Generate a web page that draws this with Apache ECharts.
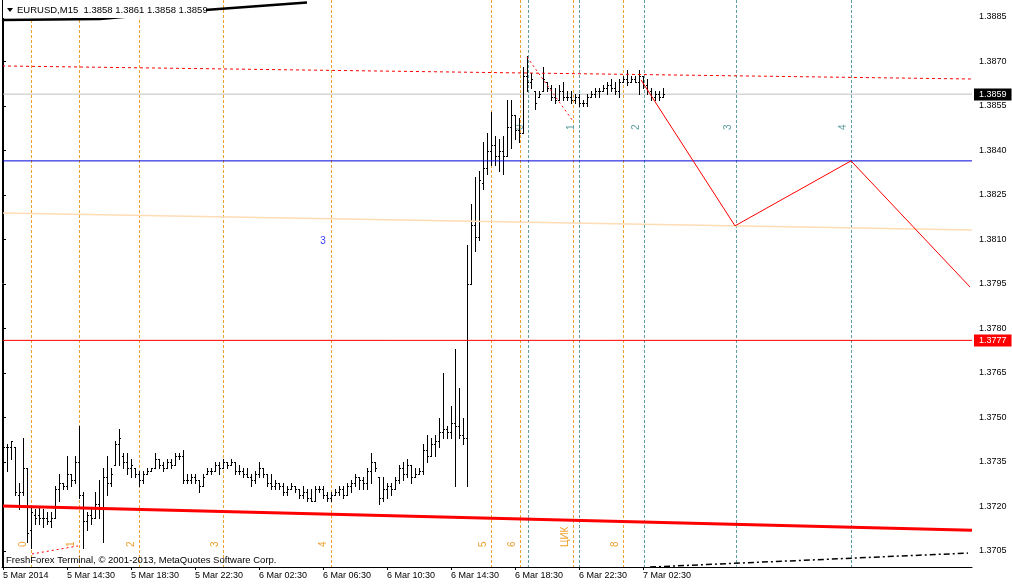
<!DOCTYPE html>
<html><head><meta charset="utf-8">
<script src="https://cdn.jsdelivr.net/npm/echarts@6/dist/echarts.min.js"></script>
<style>html,body{margin:0;padding:0;background:#fff}#c{width:1012px;height:585px}</style>
</head><body><div id="c"></div><script>
// ---- data (EURUSD M15, bars from 5 Mar 2014 10:30) ----
const barOpen=[1.3732,1.3740,1.3740,1.3740,1.3724,1.3725,1.3733,1.3712,1.3717,1.3717,
1.3716,1.3716,1.3715,1.3716,1.3726,1.3728,1.3727,1.3731,1.3729,1.3735,
1.3724,1.3715,1.3717,1.3716,1.3721,1.3719,1.3730,1.3728,1.3734,1.3741,
1.3737,1.3735,1.3733,1.3733,1.3731,1.3729,1.3731,1.3732,1.3733,1.3736,
1.3734,1.3733,1.3735,1.3734,1.3737,1.3737,1.3729,1.3729,1.3730,1.3729,
1.3727,1.3731,1.3732,1.3732,1.3734,1.3733,1.3735,1.3734,1.3735,1.3732,
1.3732,1.3731,1.3730,1.3729,1.3731,1.3733,1.3731,1.3728,1.3727,1.3728,
1.3727,1.3725,1.3726,1.3727,1.3726,1.3724,1.3725,1.3723,1.3722,1.3726,
1.3726,1.3724,1.3723,1.3724,1.3725,1.3726,1.3724,1.3727,1.3728,1.3730,
1.3729,1.3728,1.3732,1.3735,1.3730,1.3723,1.3726,1.3727,1.3726,1.3729,
1.3733,1.3731,1.3734,1.3730,1.3731,1.3732,1.3739,1.3737,1.3741,1.3742,
1.3745,1.3746,1.3745,1.3748,1.3747,1.3744,1.3743,1.3795,1.3815,1.3811,
1.3829,1.3834,1.3840,1.3842,1.3838,1.3840,1.3838,1.3848,1.3852,1.3847,
1.3846,1.3865,1.3863,1.3860,1.3858,1.3860,1.3863,1.3861,1.3858,1.3857,
1.3860,1.3858,1.3858,1.3857,1.3858,1.3856,1.3856,1.3858,1.3859,1.3860,
1.3860,1.3861,1.3862,1.3861,1.3860,1.3863,1.3864,1.3863,1.3864,1.3863,
1.3865,1.3862,1.3860,1.3858,1.3859,1.3858];
const barHigh=[1.3741,1.3741,1.3742,1.3740,1.3728,1.3743,1.3733,1.3720,1.3719,1.3720,
1.3719,1.3718,1.3718,1.3727,1.3731,1.3728,1.3737,1.3731,1.3737,1.3747,
1.3725,1.3718,1.3719,1.3725,1.3729,1.3733,1.3737,1.3733,1.3742,1.3746,
1.3738,1.3738,1.3736,1.3733,1.3732,1.3732,1.3733,1.3733,1.3738,1.3736,
1.3735,1.3736,1.3736,1.3738,1.3738,1.3739,1.3731,1.3731,1.3731,1.3729,
1.3731,1.3733,1.3733,1.3735,1.3735,1.3736,1.3735,1.3736,1.3735,1.3734,
1.3733,1.3733,1.3731,1.3732,1.3735,1.3733,1.3731,1.3731,1.3729,1.3728,
1.3728,1.3727,1.3728,1.3727,1.3726,1.3727,1.3726,1.3726,1.3727,1.3727,
1.3727,1.3725,1.3725,1.3726,1.3727,1.3727,1.3728,1.3729,1.3731,1.3730,
1.3730,1.3733,1.3738,1.3735,1.3730,1.3730,1.3728,1.3728,1.3730,1.3734,
1.3735,1.3736,1.3734,1.3733,1.3733,1.3741,1.3744,1.3743,1.3744,1.3750,
1.3765,1.3747,1.3754,1.3773,1.3760,1.3750,1.3808,1.3822,1.3831,1.3833,
1.3843,1.3846,1.3853,1.3845,1.3844,1.3845,1.3857,1.3857,1.3852,1.3851,
1.3868,1.3872,1.3866,1.3860,1.3860,1.3868,1.3863,1.3862,1.3861,1.3862,
1.3863,1.3860,1.3860,1.3859,1.3859,1.3857,1.3859,1.3860,1.3861,1.3861,
1.3862,1.3863,1.3864,1.3863,1.3864,1.3865,1.3867,1.3865,1.3865,1.3867,
1.3865,1.3864,1.3861,1.3860,1.3860,1.3861];
const barLow=[1.3727,1.3732,1.3736,1.3724,1.3719,1.3724,1.3708,1.3706,1.3714,1.3714,
1.3713,1.3714,1.3713,1.3716,1.3722,1.3726,1.3726,1.3727,1.3728,1.3723,
1.3706,1.3712,1.3714,1.3716,1.3716,1.3708,1.3724,1.3727,1.3734,1.3734,
1.3733,1.3731,1.3730,1.3730,1.3727,1.3728,1.3731,1.3732,1.3733,1.3733,
1.3732,1.3733,1.3733,1.3734,1.3736,1.3728,1.3728,1.3728,1.3728,1.3725,
1.3727,1.3731,1.3731,1.3732,1.3731,1.3733,1.3733,1.3734,1.3731,1.3731,
1.3730,1.3730,1.3727,1.3728,1.3730,1.3730,1.3727,1.3726,1.3726,1.3726,
1.3724,1.3724,1.3726,1.3725,1.3723,1.3723,1.3722,1.3722,1.3722,1.3725,
1.3723,1.3722,1.3722,1.3724,1.3724,1.3723,1.3724,1.3725,1.3727,1.3726,
1.3726,1.3726,1.3728,1.3732,1.3721,1.3722,1.3723,1.3724,1.3726,1.3728,
1.3729,1.3730,1.3728,1.3730,1.3731,1.3731,1.3735,1.3737,1.3737,1.3740,
1.3743,1.3743,1.3743,1.3727,1.3743,1.3741,1.3727,1.3795,1.3806,1.3810,
1.3827,1.3832,1.3835,1.3835,1.3833,1.3832,1.3838,1.3841,1.3844,1.3843,
1.3846,1.3860,1.3861,1.3854,1.3858,1.3860,1.3860,1.3857,1.3856,1.3857,
1.3857,1.3857,1.3856,1.3856,1.3855,1.3855,1.3855,1.3858,1.3858,1.3858,
1.3860,1.3859,1.3860,1.3859,1.3858,1.3863,1.3862,1.3863,1.3863,1.3859,
1.3861,1.3859,1.3857,1.3857,1.3857,1.3858];
const barClose=[1.3740,1.3740,1.3742,1.3725,1.3725,1.3733,1.3711,1.3718,1.3716,1.3716,
1.3716,1.3715,1.3716,1.3726,1.3728,1.3727,1.3731,1.3729,1.3735,1.3724,
1.3715,1.3717,1.3716,1.3721,1.3719,1.3730,1.3728,1.3731,1.3741,1.3743,
1.3735,1.3733,1.3734,1.3731,1.3729,1.3731,1.3732,1.3733,1.3736,1.3734,
1.3733,1.3735,1.3734,1.3737,1.3737,1.3729,1.3729,1.3730,1.3729,1.3727,
1.3730,1.3732,1.3732,1.3734,1.3733,1.3735,1.3734,1.3735,1.3732,1.3732,
1.3731,1.3730,1.3729,1.3731,1.3733,1.3731,1.3728,1.3727,1.3728,1.3727,
1.3725,1.3726,1.3727,1.3726,1.3724,1.3725,1.3723,1.3722,1.3726,1.3726,
1.3724,1.3723,1.3724,1.3725,1.3726,1.3724,1.3727,1.3728,1.3730,1.3729,
1.3728,1.3732,1.3735,1.3733,1.3723,1.3726,1.3727,1.3726,1.3729,1.3733,
1.3731,1.3734,1.3730,1.3731,1.3732,1.3739,1.3737,1.3741,1.3742,1.3745,
1.3746,1.3745,1.3748,1.3747,1.3744,1.3743,1.3795,1.3815,1.3811,1.3830,
1.3834,1.3840,1.3842,1.3838,1.3840,1.3838,1.3848,1.3852,1.3847,1.3846,
1.3865,1.3863,1.3864,1.3856,1.3859,1.3864,1.3861,1.3858,1.3857,1.3860,
1.3858,1.3858,1.3857,1.3858,1.3856,1.3856,1.3858,1.3859,1.3860,1.3860,
1.3861,1.3862,1.3861,1.3860,1.3863,1.3864,1.3863,1.3864,1.3863,1.3865,
1.3862,1.3860,1.3858,1.3859,1.3858,1.3859];

const timeTickIndex=[0,16,32,48,64,80,96,112,128,144,160];
const timeTickLabels=["5 Mar 2014","5 Mar 14:30","5 Mar 18:30","5 Mar 22:30","6 Mar 02:30","6 Mar 06:30","6 Mar 10:30","6 Mar 14:30","6 Mar 18:30","6 Mar 22:30","7 Mar 02:30"];
const priceTicks=[1.3705,1.3720,1.3735,1.3750,1.3765,1.3780,1.3795,1.3810,1.3825,1.3840,1.3855,1.3870,1.3885];

// vertical time-zone lines (bar positions) and their labels
const orangeLinePos=[7.1,19.1,34.1,55.1,82.1,122.1,129.3,142.6,155.1];
const orangeLineLabels=["0","1","2","3","4","5","6","ЦИК","8"];
const tealLinePos=[131.2,144.1,160.3,183.25,212];
const tealLineLabels=["0","1","2","3","4"];

// horizontal levels
const bidPrice=1.3859;
const blueLevel=1.38365;
const alertLevel=1.3776;
const boxPrices=[1.3859,1.3776];
const boxLabels=["1.3859","1.3777"];
const boxColors=['#000000','#ff0000'];

// trend/indicator lines: [barPosition, price]
const peachLine=[[-0.25,1.38189],[242.25,1.38132]];
const redDottedTop=[[-0.25,1.38685],[242.25,1.38641]];
const redThickBottom=[[-0.25,1.37202],[242.25,1.37120]];
const blackTopLine=[[-0.25,1.38840],[24.25,1.38843],[50.5,1.38874],[76,1.38899]];
const blackDashDot=[[161.75,1.36996],[241.25,1.37043]];
const redZigzag=[[159.5,1.38638],[183,1.38146],[212,1.38365],[241.75,1.37940]];
const redDashPeak=[[131,1.38715],[142.5,1.38499]];
const redDashLow=[[7.25,1.37040],[18.75,1.37067]];
const blueText={pos:80,price:1.38095,text:"3"};

// ---- chart ----
const FONT="'Liberation Sans',Arial,sans-serif";
const FS=9;
const xMin=-0.25,xMax=242.25;
const yMin=1.369961, yMax=1.389073;
const chart=echarts.init(document.getElementById('c'),null,{renderer:'canvas'});

const bars=barOpen.map((o,i)=>[i,o,barHigh[i],barLow[i],barClose[i]]);

function renderBar(params,api){
  const i=api.value(0);
  const pO=api.coord([i,api.value(1)]),pH=api.coord([i,api.value(2)]),
        pL=api.coord([i,api.value(3)]),pC=api.coord([i,api.value(4)]);
  const x=Math.round(pH[0]);
  const yH=Math.round(pH[1]),yL=Math.round(pL[1]);
  return {type:'group',children:[
    {type:'rect',shape:{x:x,y:yH,width:1,height:Math.max(1,yL-yH+1)},style:{fill:'#000'}},
    {type:'rect',shape:{x:x-1,y:Math.round(pO[1]),width:1,height:1},style:{fill:'#000'}},
    {type:'rect',shape:{x:x+1,y:Math.round(pC[1]),width:1,height:1},style:{fill:'#000'}}
  ]};
}
function vlineRenderer(color,labels,labelBottomY){
  return function(params,api){
    const cs=params.coordSys;
    const p=api.coord([api.value(0),yMin]);
    const x=Math.round(p[0])+0.5;
    return {type:'group',children:[
      {type:'line',shape:{x1:x,y1:cs.y,x2:x,y2:cs.y+cs.height},style:{stroke:color,lineWidth:1,lineDash:[3,2]}},
      {type:'text',x:x-8,y:labelBottomY,rotation:Math.PI/2,
       style:{text:labels[api.value(1)],fill:color,font:'10px '+FONT,align:'left',verticalAlign:'middle'}}
    ]};
  };
}
function renderPriceBox(params,api){
  const cs=params.coordSys;
  const y=api.coord([0,api.value(0)])[1];
  return {type:'text',x:cs.x+cs.width+2,y:Math.round(y)+0.5,
      style:{text:boxLabels[api.value(1)],fill:'#fff',backgroundColor:boxColors[api.value(1)],padding:[2,5,1,5],
             font:FS+'px '+FONT,align:'left',verticalAlign:'middle'}};
}
function lineSeries(data,color,width,dash,z){
  return {type:'line',data:data,symbol:'none',silent:true,clip:true,z:z||4,
    lineStyle:{color:color,width:width,type:dash||'solid'},animation:false};
}
function hLine(price){return [[xMin,price],[xMax,price]];}

chart.setOption({
  animation:false,
  backgroundColor:'#fff',
  grid:{left:2,right:40,top:0,bottom:18,containLabel:false},
  xAxis:{type:'value',min:xMin,max:xMax,
    axisLine:{show:true,lineStyle:{color:'#000',width:1}},
    axisTick:{show:true,customValues:timeTickIndex,length:3,lineStyle:{color:'#000'}},
    axisLabel:{customValues:timeTickIndex,align:'left',margin:4,color:'#000',fontSize:FS,fontFamily:FONT,
      formatter:v=>timeTickLabels[timeTickIndex.indexOf(v)]||''},
    splitLine:{show:false}},
  yAxis:{type:'value',position:'right',min:yMin,max:yMax,
    axisLine:{show:true,lineStyle:{color:'#000',width:1}},
    axisTick:{show:true,customValues:priceTicks,length:3,lineStyle:{color:'#000'}},
    axisLabel:{customValues:priceTicks,margin:7,color:'#000',fontSize:FS,fontFamily:FONT,
      formatter:v=>v.toFixed(4)},
    splitLine:{show:false}},
  series:[
    {type:'custom',renderItem:vlineRenderer('#f0a030',orangeLineLabels,547),data:orangeLinePos.map((p,k)=>[p,k]),z:1,silent:true},
    {type:'custom',renderItem:vlineRenderer('#5f9ea0',tealLineLabels,130),data:tealLinePos.map((p,k)=>[p,k]),z:1,silent:true},
    lineSeries(peachLine,'#ffdcb4',1.5),
    lineSeries(redDottedTop,'#ff0000',1,[3,3]),
    lineSeries(blackTopLine,'#000',2.5),
    lineSeries(hLine(bidPrice),'#c0c0c0',1,'solid',2),
    {type:'custom',renderItem:renderBar,data:bars,z:3,silent:true},
    lineSeries(hLine(blueLevel),'#0000dc',1),
    lineSeries(hLine(alertLevel),'#ff0000',1),
    lineSeries(redThickBottom,'#ff0000',3),
    lineSeries(blackDashDot,'#000',1.5,[6,3,2,3]),
    lineSeries(redZigzag,'#ff0000',1),
    lineSeries(redDashPeak,'#ff0000',1,[2,3]),
    lineSeries(redDashLow,'#ff0000',1,[2,3]),
    {type:'scatter',data:[[blueText.pos,blueText.price]],symbolSize:0,silent:true,z:4,
      label:{show:true,position:'inside',formatter:blueText.text,color:'#0000ff',fontSize:10,fontFamily:FONT}},
    {type:'custom',renderItem:renderPriceBox,data:boxPrices.map((p,k)=>[p,k]),z:10,clip:false,silent:true}
  ],
  graphic:[
    {type:'line',shape:{x1:2.5,y1:0,x2:2.5,y2:567},style:{stroke:'#000',lineWidth:1},z:10},
    {type:'rect',shape:{x:3,y:0,width:203,height:18},style:{fill:'#fff'},z:20},
    {type:'polygon',shape:{points:[[7,8],[13,8],[10,12]]},style:{fill:'#000'},z:21},
    {type:'text',x:17,y:10,style:{text:'EURUSD,M15  1.3858 1.3861 1.3858 1.3859',fill:'#000',font:'9.5px '+FONT,verticalAlign:'middle'},z:21},
    {type:'text',x:6,y:560,style:{text:'FreshForex Terminal, © 2001-2013, MetaQuotes Software Corp.',fill:'#000',font:'9.5px '+FONT,verticalAlign:'middle'},z:21}
  ]
});
</script></body></html>
